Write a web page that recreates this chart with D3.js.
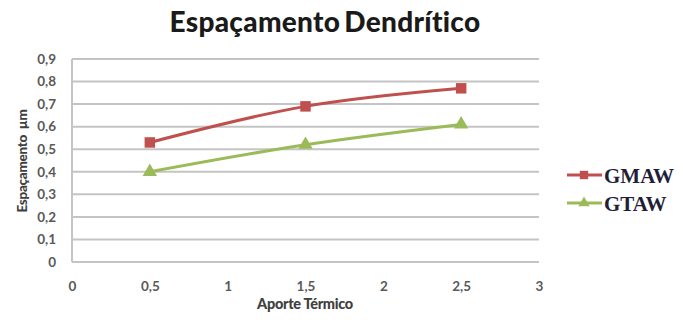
<!DOCTYPE html>
<html>
<head>
<meta charset="utf-8">
<script src="https://cdn.jsdelivr.net/npm/d3@7"></script>
<style>
  html, body { margin: 0; padding: 0; background: #fff; }
  svg { display: block; }
</style>
</head>
<body>
<svg id="chart" width="683" height="322"></svg>
<script>
// Heat input (kJ/mm) and dendritic arm spacing (µm)
const aporte = [0.5, 1.5, 2.5];
const gmaw = [0.53, 0.69, 0.77];
const gtaw = [0.40, 0.52, 0.61];
const seriesNames = ["GMAW", "GTAW"];
const seriesColors = ["#C0504D", "#9BBB59"];
const xTicks = [0, 0.5, 1, 1.5, 2, 2.5, 3];
const yTicks = [0, 0.1, 0.2, 0.3, 0.4, 0.5, 0.6, 0.7, 0.8, 0.9];

const svg = d3.select("#chart");
const fmt = d => String(d).replace(".", ",");
const sans = "Lato, 'Open Sans', sans-serif";

const x = d3.scaleLinear().domain([0, 3]).range([72, 539]);
const y = d3.scaleLinear().domain([0, 0.9]).range([262, 59]);

// Title
svg.append("text")
  .attr("x", 325).attr("y", 32)
  .attr("text-anchor", "middle")
  .attr("font-family", sans)
  .attr("font-weight", 900)
  .attr("font-size", 28)
  .attr("letter-spacing", 0.3)
  .attr("word-spacing", -3)
  .attr("fill", "#1a1a1a")
  .text("Espaçamento Dendrítico");

// Horizontal gridlines
svg.append("g")
  .selectAll("line")
  .data(yTicks)
  .join("line")
  .attr("x1", x(0)).attr("x2", x(3))
  .attr("y1", d => y(d)).attr("y2", d => y(d))
  .attr("stroke", "#c4c4c4")
  .attr("stroke-width", 2);

// Left axis line
svg.append("line")
  .attr("x1", x(0)).attr("x2", x(0))
  .attr("y1", y(0.9)).attr("y2", y(0))
  .attr("stroke", "#c4c4c4").attr("stroke-width", 2);

// Y axis
const yAxis = d3.axisLeft(y).tickValues(yTicks).tickFormat(fmt).tickSize(0).tickPadding(16);
const gy = svg.append("g").attr("transform", `translate(${x(0)},0)`).call(yAxis);
gy.select(".domain").remove();
gy.selectAll("text")
  .attr("font-family", sans)
  .attr("font-weight", "bold")
  .attr("font-size", 13.5)
  .attr("fill", "#595959");

// X axis
const xAxis = d3.axisBottom(x).tickValues(xTicks).tickFormat(fmt).tickSize(0).tickPadding(19);
const gx = svg.append("g").attr("transform", `translate(0,${y(0)})`).call(xAxis);
gx.select(".domain").remove();
gx.selectAll("text")
  .attr("font-family", sans)
  .attr("font-weight", "bold")
  .attr("font-size", 13.5)
  .attr("fill", "#595959");

// Axis titles
svg.append("text")
  .attr("x", 305).attr("y", 309)
  .attr("text-anchor", "middle")
  .attr("font-family", sans)
  .attr("font-weight", 900)
  .attr("font-size", 14.5)
  .attr("letter-spacing", -0.3)
  .attr("fill", "#404040")
  .text("Aporte Térmico");

svg.append("text")
  .attr("transform", "translate(27,161) rotate(-90)")
  .attr("text-anchor", "middle")
  .attr("font-family", sans)
  .attr("font-weight", 900)
  .attr("font-size", 13.5)
  .attr("letter-spacing", -0.3)
  .attr("fill", "#404040")
  .attr("xml:space", "preserve")
  .text("Espaçamento  µm");

// Series
const series = [gmaw, gtaw];
const line = d3.line()
  .x(d => x(d[0])).y(d => y(d[1]))
  .curve(d3.curveCatmullRom.alpha(0.5));

const square = d3.symbol().type(d3.symbolSquare).size(110);
const triangle = d3.symbol().type(d3.symbolTriangle).size(90);
const shapes = [square, triangle];

series.forEach((vals, i) => {
  const pts = aporte.map((a, j) => [a, vals[j]]);
  svg.append("path")
    .attr("d", line(pts))
    .attr("fill", "none")
    .attr("stroke", seriesColors[i])
    .attr("stroke-width", 3);
  svg.append("g")
    .selectAll("path")
    .data(pts)
    .join("path")
    .attr("d", shapes[i]())
    .attr("transform", d => `translate(${x(d[0])},${y(d[1])})`)
    .attr("fill", seriesColors[i]);
});

// Legend
const legend = svg.append("g");
seriesNames.forEach((name, i) => {
  const ly = 175 + i * 28;
  legend.append("line")
    .attr("x1", 567).attr("x2", 602)
    .attr("y1", ly).attr("y2", ly)
    .attr("stroke", seriesColors[i]).attr("stroke-width", 3);
  legend.append("path")
    .attr("d", shapes[i].size(i === 0 ? 70 : 55)())
    .attr("transform", `translate(584,${ly})`)
    .attr("fill", seriesColors[i]);
  legend.append("text")
    .attr("x", 604).attr("y", ly + 8)
    .attr("font-family", "'Liberation Serif', 'DejaVu Serif', serif")
    .attr("font-weight", "bold")
    .attr("font-size", 21)
    .attr("fill", "#1f1f3a")
    .text(name);
});
</script>
</body>
</html>
